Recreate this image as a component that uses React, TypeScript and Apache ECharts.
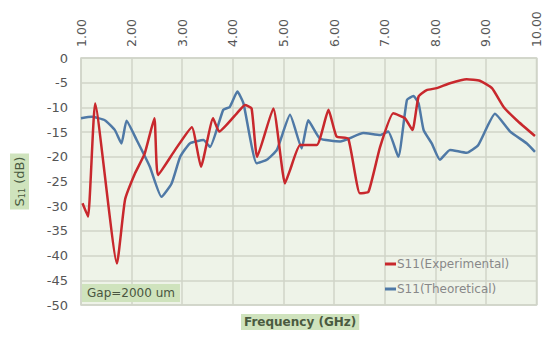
import React, { useEffect, useRef } from "react";
import * as echarts from "echarts";

const xTicks = [1, 2, 3, 4, 5, 6, 7, 8, 9, 10];

const expFreq = [1.03, 1.14, 1.28, 1.71, 1.87, 2.07, 2.26, 2.45, 2.52, 2.86, 3.19, 3.37, 3.61, 3.73, 4.08, 4.24, 4.37, 4.48, 4.8, 5.03, 5.13, 5.33, 5.66, 5.89, 6.05, 6.28, 6.51, 6.68, 6.91, 7.17, 7.4, 7.55, 7.67, 7.83, 8.03, 8.29, 8.62, 8.88, 9.12, 9.35, 9.61, 9.97];
const expS11 = [-29.4, -32.1, -9.2, -41.6, -28.7, -23.3, -19.3, -12.2, -23.7, -18.6, -14.0, -22.0, -12.2, -14.9, -11.2, -9.5, -10.2, -20.0, -10.2, -25.4, -22.7, -17.6, -17.6, -10.5, -15.9, -16.3, -27.4, -27.1, -18.0, -11.2, -12.2, -14.6, -7.8, -6.5, -6.1, -5.1, -4.3, -4.6, -6.1, -9.9, -12.6, -15.8];

const theoFreq = [1.0, 1.21, 1.47, 1.67, 1.8, 1.9, 2.1, 2.36, 2.59, 2.79, 2.96, 3.15, 3.42, 3.55, 3.81, 3.94, 4.09, 4.21, 4.47, 4.67, 4.87, 5.13, 5.36, 5.49, 5.72, 6.12, 6.58, 6.91, 7.07, 7.27, 7.44, 7.57, 7.67, 7.77, 7.93, 8.09, 8.29, 8.62, 8.85, 9.18, 9.48, 9.81, 9.97];
const theoS11 = [-12.2, -11.9, -12.6, -14.6, -17.3, -12.7, -16.6, -22.0, -28.1, -25.4, -20.0, -17.3, -16.6, -18.0, -10.5, -9.9, -6.8, -9.2, -21.3, -20.6, -18.6, -11.5, -18.3, -12.6, -16.3, -16.9, -15.2, -15.6, -14.9, -20.0, -8.5, -7.7, -9.2, -14.6, -17.3, -20.6, -18.6, -19.2, -17.6, -11.3, -14.9, -17.3, -19.0];

const seriesNames = ["S11(Experimental)", "S11(Theoretical)"];
const xAxisTitle = "Frequency (GHz)";
const annotation = "Gap=2000 um";

const FONT = "DejaVu Sans, sans-serif";
const GRID_LINE = "#d0d4c8";

export default function App() {
  const ref = useRef<HTMLDivElement>(null);
  useEffect(() => {
    if (!ref.current) return;
    const chart = echarts.init(ref.current, undefined, { renderer: "svg" });
    const pair = (xs: number[], ys: number[]) => xs.map((x, i) => [x, ys[i]]);
    chart.setOption({
      animation: false,
      backgroundColor: "#ffffff",
      textStyle: { fontFamily: FONT },
      grid: {
        left: 81,
        right: 6,
        top: 58,
        bottom: 34,
        show: true,
        backgroundColor: "#eef3e8",
        borderColor: GRID_LINE,
        borderWidth: 1.5,
      },
      xAxis: {
        type: "value",
        position: "top",
        min: xTicks[0],
        max: xTicks[xTicks.length - 1],
        interval: 1,
        axisLine: { show: false },
        axisTick: { show: false },
        axisLabel: {
          rotate: 90,
          margin: 11,
          color: "#555",
          fontSize: 12.5,
          fontFamily: FONT,
          formatter: (v: number) => v.toFixed(2),
        },
        splitLine: { show: true, lineStyle: { color: GRID_LINE, width: 1.5 } },
      },
      yAxis: {
        type: "value",
        min: -50,
        max: 0,
        interval: 5,
        axisLine: { show: false },
        axisTick: { show: false },
        axisLabel: { color: "#555", fontSize: 13, margin: 13, fontFamily: FONT },
        splitLine: { show: true, lineStyle: { color: GRID_LINE, width: 1.5 } },
        name: "{s|S}{sub|11}{s| (dB)}",
        nameLocation: "middle",
        nameRotate: 90,
        nameGap: 52,
        nameTextStyle: {
          backgroundColor: "#cfe3bd",
          padding: [3, 3, 3, 3],
          rich: {
            s: { fontSize: 13, color: "#4a5a40", fontFamily: FONT },
            sub: { fontSize: 8, color: "#4a5a40", fontFamily: FONT, verticalAlign: "bottom" },
          },
        },
      },
      legend: {
        orient: "vertical",
        left: 380,
        top: 253,
        itemWidth: 11,
        itemHeight: 3,
        itemGap: 13,
        icon: "rect",
        textStyle: { color: "#888", fontSize: 12, fontFamily: FONT, padding: [0, 0, 0, -4] },
        data: seriesNames,
      },
      graphic: [
        {
          type: "text",
          left: 82,
          top: 284,
          z: 5,
          style: {
            text: annotation,
            fill: "#4a5540",
            fontSize: 12,
            fontFamily: FONT,
            backgroundColor: "#cfe3bd",
            padding: [3, 5, 3, 5],
          },
        },
        {
          type: "text",
          left: 241,
          top: 314,
          style: {
            text: xAxisTitle,
            fill: "#4a5a40",
            fontSize: 12,
            fontWeight: "bold",
            fontFamily: FONT,
            backgroundColor: "#cfe3bd",
            padding: [2, 3, 2, 3],
          },
        },
      ],
      series: [
        {
          name: seriesNames[0],
          type: "line",
          data: pair(expFreq, expS11),
          showSymbol: false,
          smooth: 0.15,
          color: "#c8282d",
          lineStyle: { width: 2.5, color: "#c8282d" },
          z: 3,
        },
        {
          name: seriesNames[1],
          type: "line",
          data: pair(theoFreq, theoS11),
          showSymbol: false,
          smooth: 0.15,
          color: "#4f79a6",
          lineStyle: { width: 2.5, color: "#4f79a6" },
          z: 2,
        },
      ],
    });
    return () => chart.dispose();
  }, []);
  return (
    <div
      ref={ref}
      style={{ position: "fixed", left: 0, top: 0, width: 543, height: 339 }}
    />
  );
}
